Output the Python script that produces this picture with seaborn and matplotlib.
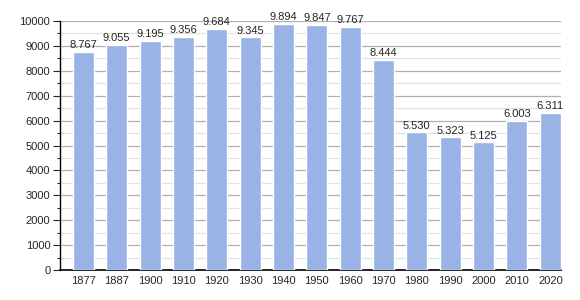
import matplotlib
matplotlib.use("Agg")
import matplotlib.pyplot as plt
import seaborn as sns
import pandas as pd
from matplotlib.ticker import MultipleLocator

years = ["1877", "1887", "1900", "1910", "1920", "1930", "1940", "1950", "1960", "1970", "1980", "1990", "2000", "2010", "2020"]
population = [8767, 9055, 9195, 9356, 9684, 9345, 9894, 9847, 9767, 8444, 5530, 5323, 5125, 6003, 6311]
labels = ["8.767", "9.055", "9.195", "9.356", "9.684", "9.345", "9.894", "9.847", "9.767", "8.444", "5.530", "5.323", "5.125", "6.003", "6.311"]

df = pd.DataFrame({"year": years, "pop": population})

sns.set_style("white")
plt.rcParams['font.family'] = ['Liberation Sans', 'DejaVu Sans']

fig = plt.figure(figsize=(5.8, 3.0), dpi=100)
ax = fig.add_axes([60/580, 30/300, 501/580, 249/300])

sns.barplot(data=df, x="year", y="pop", color="#99b3e6", saturation=1, width=0.63, ax=ax, zorder=3)

ax.set_ylim(0, 10000)
ax.set_xlim(-0.70, 14.32)
ax.yaxis.set_major_locator(MultipleLocator(1000))
ax.yaxis.set_minor_locator(MultipleLocator(500))
ax.grid(which="major", axis="y", color="#b0b0b0", linewidth=0.9, zorder=0)
ax.grid(which="minor", axis="y", color="#e2e2e2", linewidth=0.9, zorder=0)
ax.set_axisbelow(True)

for s in ["top", "right"]:
    ax.spines[s].set_visible(False)
ax.spines["left"].set_color("black")
ax.spines["bottom"].set_color("black")
ax.spines["left"].set_linewidth(1.0)
ax.spines["bottom"].set_linewidth(1.2)

ax.tick_params(axis="y", which="major", length=5, width=0.8, direction="out", labelsize=8, left=True, pad=2)
ax.tick_params(axis="y", which="minor", length=2.5, width=0.8, direction="out", left=True)
ax.tick_params(axis="x", length=0, labelsize=8, pad=4)
ax.set_xlabel("")
ax.set_ylabel("")

for i, (v, lab) in enumerate(zip(population, labels)):
    ax.text(i, v + 70, lab, ha="center", va="bottom", fontsize=8, zorder=4)

fig.savefig("out.png", dpi=100)
